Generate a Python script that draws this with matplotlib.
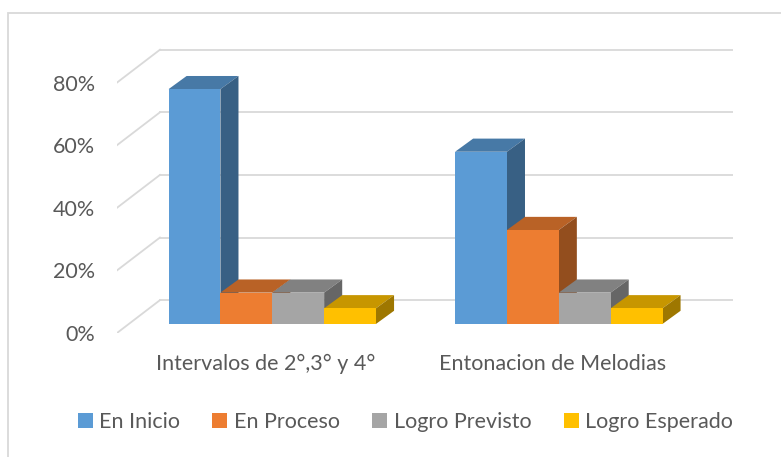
import numpy as np
import matplotlib.pyplot as plt
import matplotlib.colors as mcolors
from matplotlib.patches import Polygon, Patch, Rectangle

plt.rcParams['font.family'] = ['Lato', 'DejaVu Sans']

categories = ['Intervalos de 2°,3° y 4°', 'Entonacion de Melodias']
series = ['En Inicio', 'En Proceso', 'Logro Previsto', 'Logro Esperado']
en_inicio = [75, 55]
en_proceso = [10, 30]
logro_previsto = [10, 10]
logro_esperado = [5, 5]
yticks = [0, 20, 40, 60, 80]

colors = ['#5B9BD5', '#ED7D31', '#A5A5A5', '#FFC000']
text_color = '#595959'
grid_color = '#D9D9D9'

# fake 3d: depth of the whole floor and of the bars, in data units
DX, DY = 0.150, 10.5
BX, BY = 0.042, 2.9      # where the bar fronts sit in depth
BDX, BDY = 0.063, 4.2    # bar depth
w = 0.181


def shade(c, f):
    r, g, b = mcolors.to_rgb(c)
    return (r * f, g * f, b * f)


fig = plt.figure(figsize=(7.81, 4.57), dpi=100)
ax = fig.add_axes([117 / 781, 124 / 457, 616 / 781, 288 / 457])
ax.set_xlim(-0.5, 1.65)
ax.set_ylim(0, 92)

# back wall gridlines + diagonals on the side wall
for v in yticks:
    ax.plot([-0.5 + DX, 1.5 + DX], [v + DY, v + DY], color=grid_color, lw=1.3, zorder=1)
    ax.plot([-0.5, -0.5 + DX], [v, v + DY], color=grid_color, lw=1.3, zorder=1)

data = [en_inicio, en_proceso, logro_previsto, logro_esperado]
x = np.arange(len(categories))
z = 2
for i, (name, vals) in enumerate(zip(series, data)):
    lefts = x + BX - 2 * w + i * w
    for left, v in zip(lefts, vals):
        top = v + BY
        ax.add_patch(Polygon([(left, top), (left + w, top), (left + w + BDX, top + BDY),
                              (left + BDX, top + BDY)], closed=True,
                             facecolor=shade(colors[i], 0.78), edgecolor='none', zorder=z + 2 * i))
        ax.add_patch(Polygon([(left + w, BY), (left + w + BDX, BY + BDY), (left + w + BDX, top + BDY),
                              (left + w, top)], closed=True,
                             facecolor=shade(colors[i], 0.62), edgecolor='none', zorder=z + 2 * i))
    ax.bar(lefts, vals, width=w, bottom=BY, align='edge', color=colors[i],
           zorder=z + 2 * i + 1, label=name)

for s in ax.spines.values():
    s.set_visible(False)
ax.set_yticks(yticks)
ax.set_yticklabels(['{}%'.format(v) for v in yticks])
ax.set_xticks(x + 0.02)
ax.set_xticklabels(categories)
ax.tick_params(axis='y', length=0, pad=16, labelsize=15.5, labelcolor=text_color)
ax.tick_params(axis='x', length=0, pad=15, labelsize=15.5, labelcolor=text_color)

handles = [Patch(facecolor=c, label=s) for c, s in zip(colors, series)]
fig.legend(handles=handles, loc='center', bbox_to_anchor=(0.519, 1 - 422 / 457), ncol=4,
           frameon=False, handlelength=0.7, handleheight=0.7, handletextpad=0.3,
           columnspacing=1.5, fontsize=15.5, labelcolor=text_color)

fig.patches.append(Rectangle((8 / 781, -0.1), 1.2, 1 - 13 / 457 + 0.1, transform=fig.transFigure,
                             fill=False, edgecolor=grid_color, lw=1.3))

fig.savefig('out.png', dpi=100)
